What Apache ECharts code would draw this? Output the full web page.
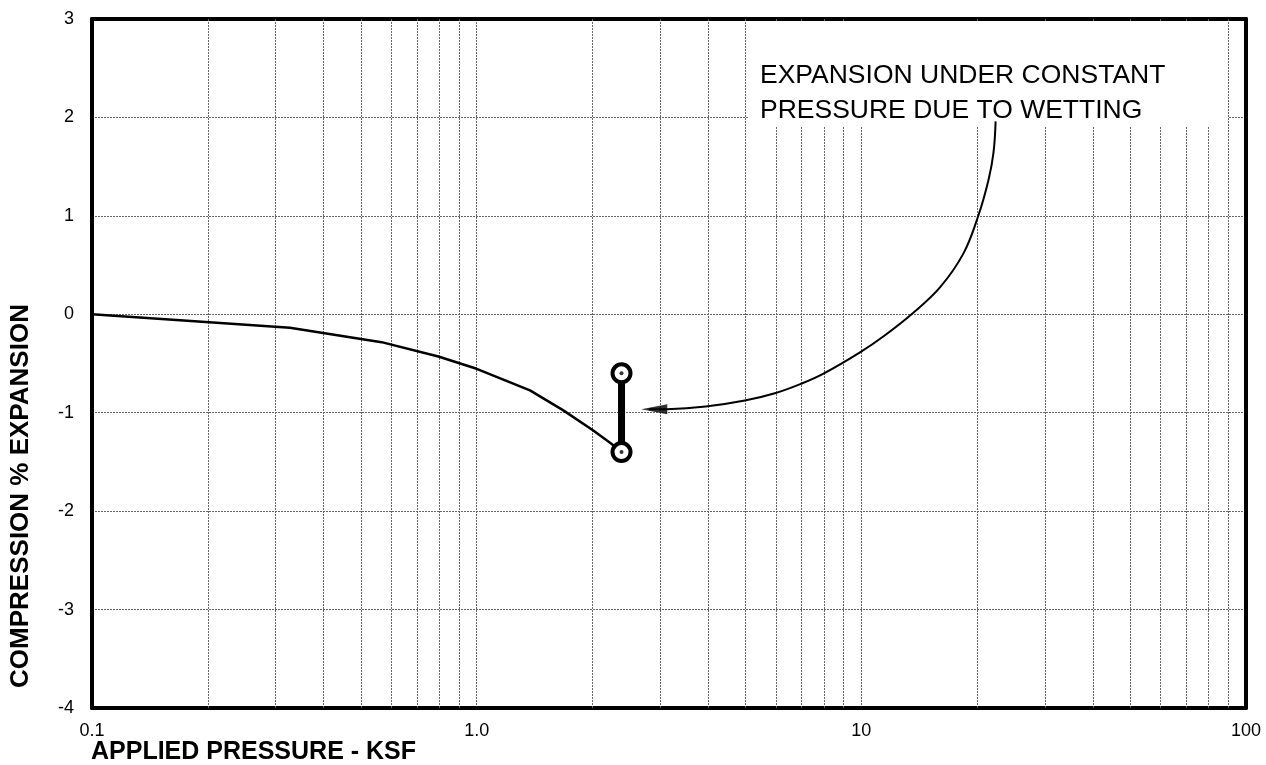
<!DOCTYPE html>
<html>
<head>
<meta charset="utf-8">
<script src="https://cdn.jsdelivr.net/npm/echarts@6/dist/echarts.min.js"></script>
<style>
html,body{margin:0;padding:0;background:#fff;}
#chart{width:1266px;height:765px;}
</style>
</head>
<body>
<div id="chart"></div>
<script>
// ---- data ----
const xTickLabels = ['0.1', '1.0', '10', '100'];
const yTicks = [-4, -3, -2, -1, 0, 1, 2, 3];
const pressure = [0.1, 0.327, 0.566, 0.795, 1.0, 1.376, 1.68, 2.01, 2.24, 2.38];
const strain = [0, -0.136, -0.283, -0.429, -0.554, -0.773, -0.976, -1.18, -1.315, -1.4];
const wettingPressure = [2.38, 2.38];
const wettingStrain = [-1.4, -0.6];
const arrowPressure = [22.34, 22.05, 21.4, 20.16, 18.43, 16.01, 13.58, 11.45, 9.92, 7.95, 6.97, 5.96, 4.98, 3.94, 3.12, 2.8];
const arrowStrain = [1.96, 1.637, 1.362, 1.006, 0.619, 0.273, 0.009, -0.22, -0.386, -0.605, -0.706, -0.802, -0.876, -0.937, -0.964, -0.966];
const arrowHeadPressure = [2.895];
const arrowHeadStrain = [-0.964];
const minorGridX = [0.2, 0.3, 0.4, 0.5, 0.6, 0.7, 0.8, 0.9, 2, 3, 4, 5, 6, 7, 8, 9, 20, 30, 40, 50, 60, 70, 80, 90];
const annotationLines = ['EXPANSION UNDER CONSTANT', 'PRESSURE DUE TO WETTING'];
const xTitle = 'APPLIED PRESSURE - KSF';
const yTitle = 'COMPRESSION % EXPANSION';

const zip = (a, b) => a.map((v, i) => [v, b[i]]);
const gridStyle = { color: '#666', width: 1, type: [2, 1] };
const FONT = '"Liberation Sans", Arial, Helvetica, sans-serif';

const chart = echarts.init(document.getElementById('chart'), null, { renderer: 'canvas' });
chart.setOption({
  animation: false,
  backgroundColor: '#fff',
  grid: { left: 92, top: 19, right: 20, bottom: 57, show: false },
  xAxis: [{
    type: 'log', logBase: 10, min: 0.1, max: 100,
    axisLine: { show: true, onZero: false, lineStyle: { color: '#000', width: 4 } },
    axisTick: { show: false },
    axisLabel: {
      margin: 14, color: '#000', fontSize: 18, fontFamily: FONT,
      formatter: v => xTickLabels[Math.round(Math.log10(v)) + 1]
    },
    splitLine: { show: true, showMinLine: false, showMaxLine: false, lineStyle: gridStyle },
    minorTick: { show: false }, minorSplitLine: { show: false }
  }, {
    type: 'log', logBase: 10, min: 0.1, max: 100, position: 'top',
    axisLine: { show: true, onZero: false, lineStyle: { color: '#000', width: 4 } },
    axisTick: { show: false }, axisLabel: { show: false }, splitLine: { show: false }
  }],
  yAxis: [{
    type: 'value', min: yTicks[0], max: yTicks[yTicks.length - 1], interval: 1,
    axisLine: { show: true, onZero: false, lineStyle: { color: '#000', width: 4 } },
    axisTick: { show: false },
    axisLabel: { margin: 18, color: '#000', fontSize: 18, fontFamily: FONT },
    splitLine: { show: true, showMinLine: false, showMaxLine: false, lineStyle: gridStyle }
  }, {
    type: 'value', min: yTicks[0], max: yTicks[yTicks.length - 1], interval: 1, position: 'right',
    axisLine: { show: true, onZero: false, lineStyle: { color: '#000', width: 4 } },
    axisTick: { show: false }, axisLabel: { show: false }, splitLine: { show: false }
  }],
  series: [
    {
      type: 'line', data: [], z: 1, silent: true,
      markLine: {
        silent: true, symbol: 'none', animation: false,
        label: { show: false },
        lineStyle: gridStyle,
        data: minorGridX.map(v => ({ xAxis: v }))
      }
    },
    {
      type: 'line', data: zip(pressure, strain), z: 10,
      symbol: 'none', smooth: false,
      lineStyle: { color: '#000', width: 2.5 }
    },
    {
      type: 'line', data: zip(arrowPressure, arrowStrain), zlevel: 1, z: 12,
      symbol: 'none', smooth: 0.4,
      lineStyle: { color: '#000', width: 2 }
    },
    {
      type: 'scatter', data: zip(arrowHeadPressure, arrowHeadStrain), zlevel: 1, z: 13,
      symbol: 'triangle', symbolRotate: 90, symbolSize: [10, 26],
      itemStyle: { color: '#000' }
    },
    {
      type: 'line', data: zip(wettingPressure, wettingStrain), z: 14,
      symbol: 'circle', symbolSize: 18, showAllSymbol: true,
      lineStyle: { color: '#000', width: 7 },
      itemStyle: { color: '#fff', borderColor: '#000', borderWidth: 4 }
    },
    {
      type: 'scatter', data: zip(wettingPressure, wettingStrain), z: 15,
      symbol: 'circle', symbolSize: 4,
      itemStyle: { color: '#000' }
    }
  ],
  graphic: [
    { type: 'rect', zlevel: 1, z: 1, shape: { x: 748, y: 22, width: 480, height: 104 }, style: { fill: '#fff' } },
    { type: 'text', zlevel: 1, z: 2, x: 760, y: 76, style: { text: annotationLines[0], fill: '#000', font: '26.5px ' + FONT, textVerticalAlign: 'middle', textAlign: 'left' } },
    { type: 'text', zlevel: 1, z: 2, x: 760, y: 111, style: { text: annotationLines[1], fill: '#000', font: '26.5px ' + FONT, textVerticalAlign: 'middle', textAlign: 'left' } },
    { type: 'text', z: 6, x: 91, y: 752, style: { text: xTitle, fill: '#000', font: 'bold 25px ' + FONT, textVerticalAlign: 'middle', textAlign: 'left' } },
    { type: 'text', z: 6, x: 21, y: 496, rotation: Math.PI / 2, style: { text: yTitle, fill: '#000', font: 'bold 26px ' + FONT, textVerticalAlign: 'middle', textAlign: 'center' } }
  ]
});
</script>
</body>
</html>
